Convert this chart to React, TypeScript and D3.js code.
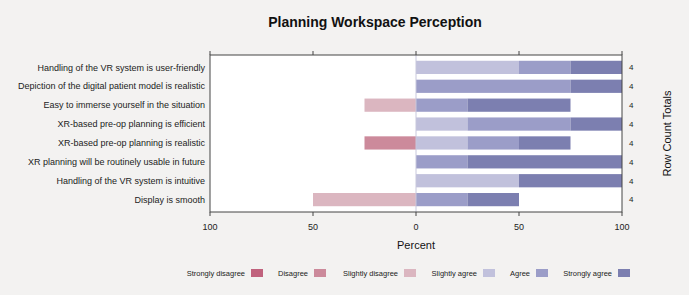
import React from "react";
import * as d3 from "d3";

const questions = [
  "Handling of the VR system is user-friendly",
  "Depiction of the digital patient model is realistic",
  "Easy to immerse yourself in the situation",
  "XR-based pre-op planning is efficient",
  "XR-based pre-op planning is realistic",
  "XR planning will be routinely usable in future",
  "Handling of the VR system is intuitive",
  "Display is smooth",
];

const levels = [
  "Strongly disagree",
  "Disagree",
  "Slightly disagree",
  "Slightly agree",
  "Agree",
  "Strongly agree",
];

const levelColors = ["#c0627d", "#cc8a9b", "#dbb6c0", "#c1c1dc", "#9b9dc8", "#7c7fb0"];

// percent of respondents per level, one row per question
const percents = [
  [0, 0, 0, 50, 25, 25],
  [0, 0, 0, 0, 75, 25],
  [0, 0, 25, 0, 25, 50],
  [0, 0, 0, 25, 50, 25],
  [0, 25, 0, 25, 25, 25],
  [0, 0, 0, 0, 25, 75],
  [0, 0, 0, 50, 0, 50],
  [0, 0, 50, 0, 25, 25],
];

const rowTotals = [4, 4, 4, 4, 4, 4, 4, 4];
const tickValues = [-100, -50, 0, 50, 100];

const W = 689;
const H = 295;
const left = 210;
const right = 622;
const top = 55;
const bottom = 212;
const font = "Liberation Sans, Arial, sans-serif";

// legend swatch left edges
const legendSwatchX = [251, 314, 404, 483, 536, 618];

export default function App() {
  const x = d3.scaleLinear().domain([-100, 100]).range([left, right]);
  const y = d3
    .scaleBand<string>()
    .domain(questions)
    .range([top + 2, bottom - 2])
    .paddingInner(0.3)
    .paddingOuter(0.2);

  const segments: { q: string; level: number; x0: number; x1: number }[] = [];
  percents.forEach((row, i) => {
    // negative side stacks outward from zero, strongest disagreement furthest
    let neg = 0;
    for (let l = 2; l >= 0; l--) {
      if (row[l] > 0) {
        segments.push({ q: questions[i], level: l, x0: -(neg + row[l]), x1: -neg });
        neg += row[l];
      }
    }
    let pos = 0;
    for (let l = 3; l < 6; l++) {
      if (row[l] > 0) {
        segments.push({ q: questions[i], level: l, x0: pos, x1: pos + row[l] });
        pos += row[l];
      }
    }
  });

  return (
    <svg
      width={W}
      height={H}
      style={{ position: "absolute", left: 0, top: 0, background: "#f3f2f1" }}
      fontFamily={font}
    >
      <rect x={0} y={0} width={W} height={H} fill="#f3f2f1" />
      <text x={375} y={27} textAnchor="middle" fontSize={14} fontWeight="bold" fill="#111">
        Planning Workspace Perception
      </text>

      <rect x={left} y={top} width={right - left} height={bottom - top} fill="#ffffff" />

      {segments.map((s, i) => (
        <rect
          key={i}
          x={x(s.x0)}
          y={y(s.q)}
          width={x(s.x1) - x(s.x0)}
          height={y.bandwidth()}
          fill={levelColors[s.level]}
        />
      ))}

      {/* zero reference line */}
      <line x1={x(0)} x2={x(0)} y1={top} y2={bottom} stroke="#c8c8dc" strokeWidth={1} />

      <rect
        x={left}
        y={top}
        width={right - left}
        height={bottom - top}
        fill="none"
        stroke="#444"
        strokeWidth={1}
      />

      {tickValues.map((t) => (
        <g key={t}>
          <line x1={x(t)} x2={x(t)} y1={top - 4} y2={top} stroke="#444" />
          <line x1={x(t)} x2={x(t)} y1={bottom} y2={bottom + 4} stroke="#444" />
          <text x={x(t)} y={230} textAnchor="middle" fontSize={9} fill="#222">
            {Math.abs(t)}
          </text>
        </g>
      ))}

      {questions.map((q, i) => (
        <g key={q}>
          <text
            x={left - 5}
            y={(y(q) ?? 0) + y.bandwidth() / 2}
            dy="0.35em"
            textAnchor="end"
            fontSize={9}
            fill="#222"
          >
            {q}
          </text>
          <text
            x={right + 7}
            y={(y(q) ?? 0) + y.bandwidth() / 2}
            dy="0.35em"
            fontSize={8}
            fill="#222"
          >
            {rowTotals[i]}
          </text>
        </g>
      ))}

      <text x={x(0)} y={249} textAnchor="middle" fontSize={11} fill="#111">
        Percent
      </text>
      <text
        transform={`translate(671,${(top + bottom) / 2}) rotate(-90)`}
        textAnchor="middle"
        fontSize={11}
        fill="#111"
      >
        Row Count Totals
      </text>

      {levels.map((lv, i) => (
        <g key={lv}>
          <text x={legendSwatchX[i] - 6} y={276} textAnchor="end" fontSize={7.5} fill="#222">
            {lv}
          </text>
          <rect x={legendSwatchX[i]} y={269} width={12} height={8} fill={levelColors[i]} />
        </g>
      ))}
    </svg>
  );
}
